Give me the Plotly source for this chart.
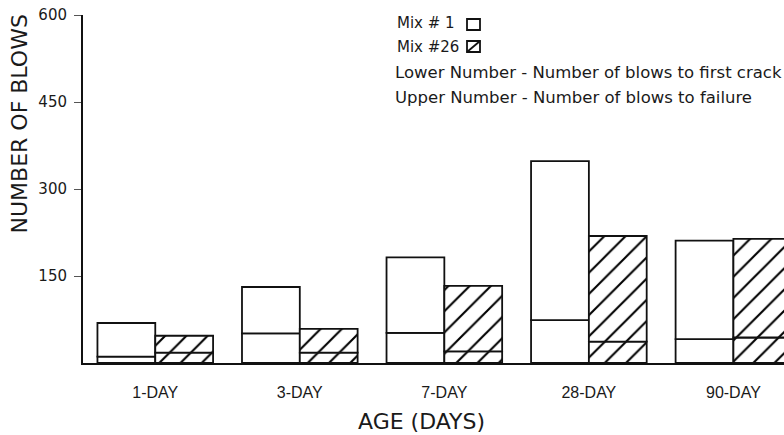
import plotly.graph_objects as go

# ---- data ----
categories = ["1-DAY", "3-DAY", "7-DAY", "28-DAY", "90-DAY"]
mix1_failure = [69, 131, 182, 348, 211]
mix1_first_crack = [11, 51, 52, 74, 41]
mix26_failure = [47, 59, 133, 219, 214]
mix26_first_crack = [18, 18, 20, 37, 44]
y_ticks = [150, 300, 450, 600]

W, H = 784, 435
ML, MR, MT, MB = 83, 0, 15, 72
PW, PH = W - ML - MR, H - MT - MB


def px(xp):
    return (xp - ML) / PW


def py(yp):
    return (H - MB - yp) / PH


xs = list(range(len(categories)))
LINE = dict(color="#111", width=1.8)
BAR_W = 0.4

fig = go.Figure()


def add_pair(crack, failure, offset, pattern):
    marker_kwargs = dict(color="white", line=LINE)
    if pattern:
        marker_kwargs["pattern"] = dict(shape="/", fgcolor="#000", bgcolor="white",
                                        size=15, solidity=0.14, fgopacity=1)
    fig.add_trace(go.Bar(x=xs, y=crack, base=[0] * len(crack), width=BAR_W,
                         offset=offset, marker=marker_kwargs, showlegend=False,
                         hoverinfo="skip"))
    fig.add_trace(go.Bar(x=xs, y=[f - c for f, c in zip(failure, crack)], base=crack,
                         width=BAR_W, offset=offset, marker=marker_kwargs,
                         showlegend=False, hoverinfo="skip"))


add_pair(mix1_first_crack, mix1_failure, -BAR_W, False)
add_pair(mix26_first_crack, mix26_failure, 0.0, True)

TXT = "#1a1a1a"
fig.update_layout(
    width=W, height=H,
    margin=dict(l=ML, r=MR, t=MT, b=MB, autoexpand=False),
    paper_bgcolor="white", plot_bgcolor="white",
    barmode="overlay",
    font=dict(family="Liberation Sans, Arial, sans-serif", color=TXT),
    xaxis=dict(range=[-0.5, 4.35], tickvals=xs, ticktext=categories,
               showgrid=False, zeroline=False, showline=True, linecolor="#111",
               linewidth=2, ticks="", tickfont=dict(size=16),
               ticklabelstandoff=14),
    yaxis=dict(range=[0, 600], tickvals=y_ticks, showgrid=False, zeroline=False,
               showline=True, linecolor="#111", linewidth=2, ticks="outside",
               ticklen=7, tickcolor="#555", tickwidth=1,
               tickfont=dict(size=15, family="DejaVu Sans, sans-serif"),
               ticklabelstandoff=4),
)

annotations = [
    dict(text="AGE (DAYS)", x=px(421.5), y=py(421.5), xref="paper", yref="paper",
         showarrow=False, xanchor="center", yanchor="middle",
         font=dict(size=22, family="DejaVu Sans, sans-serif", color=TXT)),
    dict(text="NUMBER OF BLOWS", x=px(19.5), y=py(124), xref="paper", yref="paper",
         showarrow=False, xanchor="center", yanchor="middle", textangle=-90,
         font=dict(size=22, family="DejaVu Sans, sans-serif", color=TXT)),
]
legend_lines = [
    ("Mix # 1", 395, 22.5, 15),
    ("Mix #26", 395, 46.5, 15),
    ("Lower Number - Number of blows to first crack", 393, 73, 16.5),
    ("Upper Number - Number of blows to failure", 393, 97, 16.5),
]
for t, xl, yc, fs in legend_lines:
    annotations.append(dict(text=t, x=px(xl), y=py(yc), xref="paper", yref="paper",
                            showarrow=False, xanchor="left", yanchor="middle",
                            font=dict(size=fs, family="DejaVu Sans, sans-serif",
                                      color=TXT)))
fig.update_layout(annotations=annotations)

shapes = [
    dict(type="rect", xref="paper", yref="paper", x0=px(467), x1=px(480),
         y0=py(30), y1=py(19), line=dict(color="#111", width=1.8), fillcolor="white"),
    dict(type="rect", xref="paper", yref="paper", x0=px(467), x1=px(480),
         y0=py(52), y1=py(41), line=dict(color="#111", width=1.8), fillcolor="white"),
    dict(type="line", xref="paper", yref="paper", x0=px(467), x1=px(480),
         y0=py(52), y1=py(41), line=dict(color="#111", width=1.8)),
]
fig.update_layout(shapes=shapes)

fig.write_html("out.html", config={"displayModeBar": False},
               post_script="document.body.style.margin='0';document.body.style.overflow='hidden';")
